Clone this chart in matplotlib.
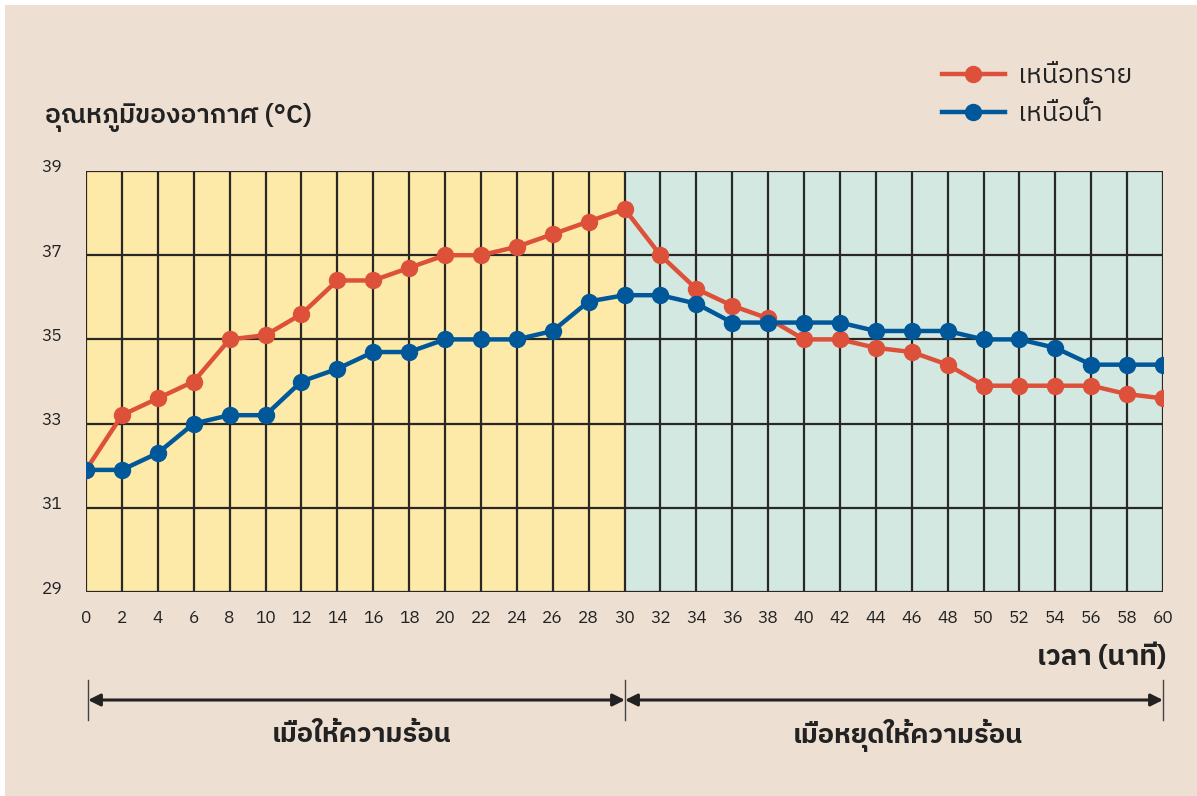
import matplotlib
matplotlib.use("Agg")
import matplotlib.pyplot as plt
import matplotlib.transforms as mtransforms
from matplotlib.lines import Line2D
from matplotlib.patches import Rectangle, FancyArrowPatch

# data ------------------>
minutes = list(range(0, 61, 2))
sand = [31.9, 33.2, 33.6, 34.0, 35.0, 35.1, 35.6, 36.4, 36.4, 36.7, 37.0,
        37.0, 37.2, 37.5, 37.8, 38.1,
        37.0, 36.2, 35.8, 35.5, 35.0, 35.0, 34.8, 34.7, 34.4, 33.9,
        33.9, 33.9, 33.9, 33.7, 33.6]
water = [31.9, 31.9, 32.3, 33.0, 33.2, 33.2, 34.0, 34.3, 34.7, 34.7, 35.0,
         35.0, 35.0, 35.2, 35.9, 36.05,
         36.05, 35.85, 35.4, 35.4, 35.4, 35.4, 35.2, 35.2, 35.2, 35.0,
         35.0, 34.8, 34.4, 34.4, 34.4]
y_ticks = [29, 31, 33, 35, 37, 39]
series_labels = ["เหนือทราย", "เหนือน้ำ"]
phase_labels = ["เมื่อให้ความร้อน", "เมื่อหยุดให้ความร้อน"]
y_title = "อุณหภูมิของอากาศ (°C)"
x_title = "เวลา (นาที)"

# style ------------------>
bg = "#EDE0D3"
heat_fill = "#FDE9A8"
cool_fill = "#D2E8E1"
grid_col = "#2A2825"
red = "#DD503A"
blue = "#00579A"
txt = "#222222"
thai = ["IBM Plex Sans Thai", "Noto Sans Thai", "DejaVu Sans"]
plt.rcParams["font.family"] = thai

W, H = 1197, 796
fig = plt.figure(figsize=(W / 100, H / 100), dpi=100, facecolor="white")
fig.patches.append(Rectangle((5 / W, 0), 1, 1 - 5 / H, transform=fig.transFigure,
                             facecolor=bg, edgecolor="none", zorder=-10))

ax = fig.add_axes([86 / W, 1 - 592 / H, (1163 - 86) / W, (592 - 171) / H])
ax.set_xlim(0, 60)
ax.set_ylim(29, 39)
ax.axvspan(0, 30, color=heat_fill, zorder=0)
ax.axvspan(30, 60, color=cool_fill, zorder=0)

# grid
for x in minutes:
    ax.axvline(x, color=grid_col, lw=1.6, zorder=1)
for y in y_ticks:
    ax.axhline(y, color=grid_col, lw=1.6, zorder=1)
for s in ax.spines.values():
    s.set_visible(False)

ax.plot(minutes, sand, color=red, lw=3.2, marker="o", ms=11.5, zorder=3,
        label=series_labels[0])
ax.plot(minutes, water, color=blue, lw=3.2, marker="o", ms=11.5, zorder=4,
        label=series_labels[1])

ax.set_xticks(minutes)
ax.set_yticks(y_ticks)
ax.tick_params(axis="both", length=0, labelsize=12.5, colors=txt)
ax.tick_params(axis="x", pad=13)
ax.tick_params(axis="y", pad=17)
shift = mtransforms.ScaledTranslation(0, 5 / 100, fig.dpi_scale_trans)
for lab in ax.get_yticklabels():
    lab.set_transform(lab.get_transform() + shift)

# legend
fig.legend(loc="upper left", bbox_to_anchor=(918 / W, 1 - 39 / H), frameon=False,
           prop={"size": 19}, handlelength=2.4, handletextpad=0.5,
           labelspacing=0.5, labelcolor=txt)

# titles
fig.text(45 / W, 1 - 117 / H, y_title, fontsize=19, fontweight="semibold",
         color=txt, va="center", ha="left")
fig.text(1166 / W, 1 - 657 / H, x_title, fontsize=20, fontweight="bold",
         color=txt, va="center", ha="right")

# phase arrows
ya = 1 - 700 / H
for xp in [88, 625, 1163]:
    fig.add_artist(Line2D([xp / W, xp / W], [1 - 680 / H, 1 - 720 / H],
                          transform=fig.transFigure, color="#444444", lw=1))
for x0, x1 in [(88, 625), (625, 1163)]:
    fig.add_artist(FancyArrowPatch(
        (x0 / W, ya), (x1 / W, ya), transform=fig.transFigure,
        arrowstyle="<|-|>", mutation_scale=18, color=txt, lw=2.2,
        shrinkA=0, shrinkB=0))
fig.text(362 / W, 1 - 735 / H, phase_labels[0], fontsize=19.5, fontweight="bold",
         color=txt, ha="center", va="center")
fig.text(908 / W, 1 - 735 / H, phase_labels[1], fontsize=19.5, fontweight="bold",
         color=txt, ha="center", va="center")

fig.savefig("out.png", dpi=100, facecolor=fig.get_facecolor())
